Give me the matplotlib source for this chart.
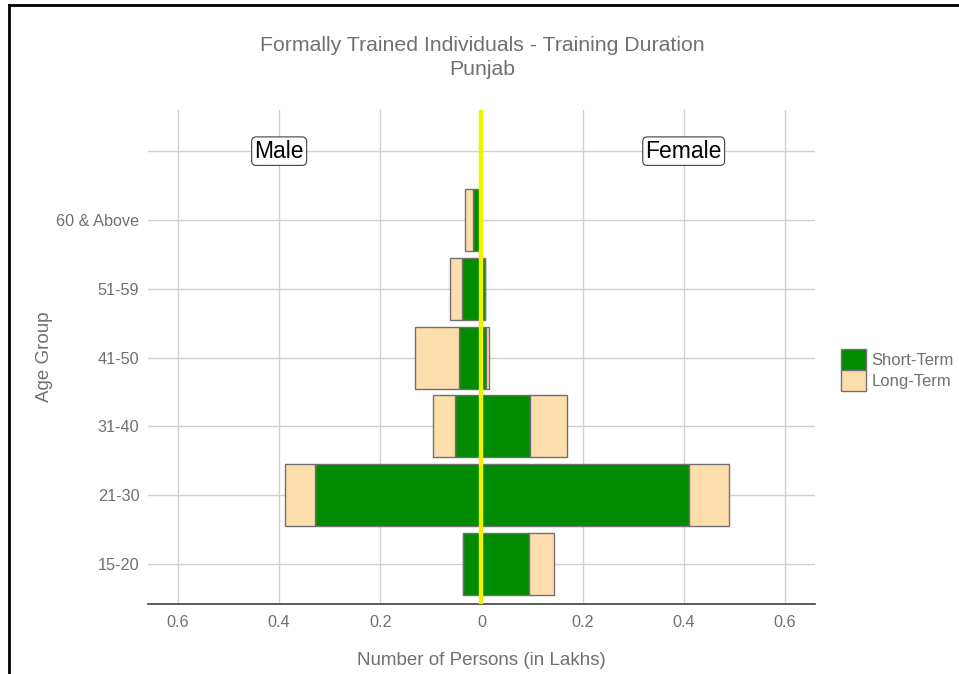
import numpy as np
import matplotlib.pyplot as plt
from matplotlib.patches import Patch
from matplotlib.lines import Line2D

plt.rcParams['font.family'] = ['Liberation Sans', 'DejaVu Sans']

age_groups = ["15-20", "21-30", "31-40", "41-50", "51-59", "60 & Above"]
male_short = [0.037, 0.329, 0.052, 0.045, 0.039, 0.017]
male_long = [0.000, 0.059, 0.044, 0.086, 0.023, 0.015]
female_short = [0.094, 0.410, 0.096, 0.009, 0.008, 0.000]
female_long = [0.050, 0.079, 0.074, 0.006, 0.000, 0.000]
xticks = [-0.6, -0.4, -0.2, 0, 0.2, 0.4, 0.6]
xticklabels = ["0.6", "0.4", "0.2", "0", "0.2", "0.4", "0.6"]

green = "#008B00"
beige = "#FFDEAD"
edge = "#707070"
gray = "#707070"

fig = plt.figure(figsize=(9.59, 6.74), dpi=100)
ax = fig.add_axes([0.154, 0.104, 0.696, 0.733])

y = np.arange(1, len(age_groups) + 1)
ms = -np.array(male_short)
ml = -np.array(male_long)
fs = np.array(female_short)
fl = np.array(female_long)

h = 0.9
ax.barh(y, ms, height=h, color=green, edgecolor=edge, linewidth=1, zorder=3)
ax.barh(y, ml, left=ms, height=h, color=beige, edgecolor=edge, linewidth=1, zorder=3)
ax.barh(y, fs, height=h, color=green, edgecolor=edge, linewidth=1, zorder=3)
ax.barh(y, fl, left=fs, height=h, color=beige, edgecolor=edge, linewidth=1, zorder=3)

ax.axvline(0, color="#F0F000", linewidth=3.2, zorder=4)

ax.set_xlim(-0.66, 0.66)
ax.set_ylim(0.42, 7.6)
ax.set_xticks(xticks)
ax.set_xticklabels(xticklabels)
ax.set_yticks(list(y) + [7])
ax.set_yticklabels(age_groups + [""])
ax.grid(True, color="#D0D0D0", linewidth=1, zorder=0)
ax.set_axisbelow(True)
for s in ["top", "right", "left"]:
    ax.spines[s].set_visible(False)
ax.spines["bottom"].set_color("#404040")
ax.spines["bottom"].set_linewidth(1.2)
ax.tick_params(axis="both", colors="#D0D0D0", labelcolor=gray, labelsize=11.7, length=0, pad=8)
ax.tick_params(axis="y", length=0, pad=6)

box = dict(boxstyle="round,pad=0.12,rounding_size=0.2", facecolor="white", edgecolor="#404040", linewidth=0.8)
ax.text(-0.4, 7, "Male", fontsize=16.5, ha="center", va="center", bbox=box, zorder=5)
ax.text(0.4, 7, "Female", fontsize=16.5, ha="center", va="center", bbox=box, zorder=5)

ax.set_xlabel("Number of Persons (in Lakhs)", fontsize=13.5, color=gray, labelpad=16)
ax.set_ylabel("Age Group", fontsize=13.5, color=gray, labelpad=2)
fig.text(0.503, 0.915, "Formally Trained Individuals - Training Duration\nPunjab",
         ha="center", va="center", fontsize=15.3, color=gray, linespacing=1.3)

handles = [Patch(facecolor=green, edgecolor=edge, label="Short-Term"),
           Patch(facecolor=beige, edgecolor=edge, label="Long-Term")]
fig.legend(handles=handles, loc="center left", bbox_to_anchor=(0.861, 0.451), frameon=False,
           fontsize=12, labelcolor=gray, handlelength=1.5, handleheight=1.55,
           handletextpad=0.35, labelspacing=0.0)

# frame lines at top and left
fig.add_artist(Line2D([0.009, 0.009], [0, 0.992], transform=fig.transFigure, color="black", linewidth=2))
fig.add_artist(Line2D([0.009, 1], [0.992, 0.992], transform=fig.transFigure, color="black", linewidth=2))

fig.savefig("out.png", dpi=100)
